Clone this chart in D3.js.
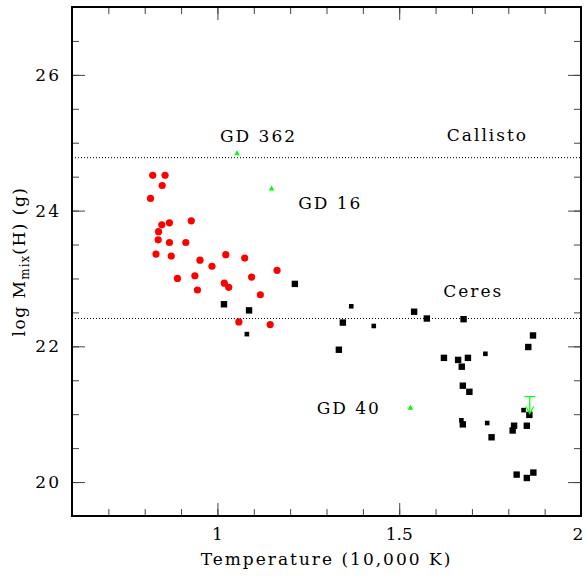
<!DOCTYPE html>
<html>
<head>
<meta charset="utf-8">
<script src="https://cdn.jsdelivr.net/npm/d3@7"></script>
<style>
  body { margin: 0; background: #fff; }
  text { font-family: "DejaVu Serif", serif; font-size: 17px; letter-spacing: 2px; fill: #000; }
</style>
</head>
<body>
<svg id="grafico" width="586" height="577"></svg>
<script>
// DA stars (red circles): temperature (10,000 K), log Mmix(H)
const daTemp = [0.822, 0.856, 0.848, 0.816, 0.847, 0.868, 0.928, 0.838, 0.837, 0.868, 0.913, 0.831, 0.873, 0.952,
    1.023, 1.075, 0.985, 1.164, 0.890, 0.938, 1.094, 1.019, 1.031, 0.945, 1.118, 1.059, 1.145];
const daMass = [24.52, 24.52, 24.37, 24.18, 23.79, 23.82, 23.85, 23.69, 23.57, 23.53, 23.53, 23.36, 23.33, 23.27,
    23.35, 23.30, 23.18, 23.12, 23.00, 23.04, 23.02, 22.93, 22.87, 22.83, 22.76, 22.36, 22.32];

// DB stars (black squares)
const dbTemp = [1.018, 1.087, 1.213, 1.345, 1.334, 1.541, 1.576, 1.677, 1.868, 1.855, 1.623, 1.662, 1.689, 1.672,
    1.675, 1.693, 1.858, 1.675, 1.816, 1.851, 1.812, 1.754, 1.823, 1.851, 1.869];
const dbMass = [22.62, 22.53, 22.92, 22.35, 21.95, 22.51, 22.41, 22.40, 22.16, 21.99, 21.83, 21.80, 21.83, 21.70,
    21.42, 21.33, 20.99, 20.85, 20.83, 20.83, 20.76, 20.66, 20.11, 20.06, 20.14];

// DB stars, second group (small squares)
const dbSmallTemp = [1.081, 1.368, 1.430, 1.737, 1.842, 1.671, 1.742];
const dbSmallMass = [22.18, 22.59, 22.30, 21.89, 21.06, 20.91, 20.87];

// named stars (green triangles)
const namedStars = ["GD 362", "GD 16", "GD 40"];
const namedTemp = [1.054, 1.149, 1.531];
const namedMass = [24.84, 24.32, 21.09];

// upper limit (green arrow)
const limitTemp = [1.859];
const limitTop = [21.26];
const limitTip = [21.01];

// reference bodies (dotted lines)
const bodies = ["Callisto", "Ceres"];
const bodyMass = [24.78, 22.41];

// annotation text and where it sits (data units)
const labelText = ["GD 362", "Callisto", "GD 16", "Ceres", "GD 40"];
const labelTemp = [1.007, 1.631, 1.222, 1.621, 1.273];
const labelMass = [25.01, 25.03, 24.02, 22.72, 21.01];

const xTicks = [1, 1.5, 2];
const yTicks = [20, 22, 24, 26];

let desenha = () => {
    const larguraSVG = 586, alturaSVG = 577;
    const margin = {top: 7, right: 5, bottom: 61, left: 72},
    larguraVis = larguraSVG - margin.left - margin.right,
    alturaVis = alturaSVG - margin.top - margin.bottom;

    let svg = d3.select("#grafico");
    let g = svg.append("g")
        .attr("transform", "translate(" + margin.left + "," + margin.top + ")");

    let x = d3.scaleLinear().domain([0.6, 2.0]).range([0, larguraVis]);
    let y = d3.scaleLinear().domain([19.5, 27]).range([alturaVis, 0]);

    // dotted reference lines
    g.selectAll(".ref")
        .data(bodyMass)
        .enter().append("line")
        .attr("x1", 0).attr("x2", larguraVis)
        .attr("y1", d => y(d)).attr("y2", d => y(d))
        .attr("stroke", "#000")
        .attr("stroke-width", 1)
        .attr("stroke-dasharray", "1,2");

    // axes with inward ticks on all four sides
    let minorX = d3.range(7, 20).map(d => d / 10);
    let minorY = d3.range(20, 27.1, 0.5);

    let eixo = (axis) => (sel) => { sel.call(axis); sel.select(".domain").remove(); sel.selectAll("line").attr("stroke", "#444"); };

    g.append("g").attr("transform", "translate(0," + alturaVis + ")")
        .call(eixo(d3.axisBottom(x).tickValues(minorX).tickSize(-7).tickFormat("")));
    g.append("g").attr("transform", "translate(0," + alturaVis + ")")
        .call(eixo(d3.axisBottom(x).tickValues(xTicks).tickSize(-13).tickFormat("")));
    g.append("g")
        .call(eixo(d3.axisTop(x).tickValues(minorX).tickSize(-7).tickFormat("")));
    g.append("g")
        .call(eixo(d3.axisTop(x).tickValues(xTicks).tickSize(-13).tickFormat("")));
    g.append("g")
        .call(eixo(d3.axisLeft(y).tickValues(minorY).tickSize(-7).tickFormat("")));
    g.append("g")
        .call(eixo(d3.axisLeft(y).tickValues(yTicks).tickSize(-13).tickFormat("")));
    g.append("g").attr("transform", "translate(" + larguraVis + ",0)")
        .call(eixo(d3.axisRight(y).tickValues(minorY).tickSize(-7).tickFormat("")));
    g.append("g").attr("transform", "translate(" + larguraVis + ",0)")
        .call(eixo(d3.axisRight(y).tickValues(yTicks).tickSize(-13).tickFormat("")));

    // tick labels (the last one is pulled in so it stays inside the page)
    g.selectAll(".xl")
        .data(xTicks)
        .enter().append("text")
        .attr("x", (d, i) => x(d) + (i == xTicks.length - 1 ? -3 : 0))
        .attr("y", alturaVis + 24)
        .attr("text-anchor", "middle")
        .style("letter-spacing", "0px")
        .text(d => d);
    g.selectAll(".yl")
        .data(yTicks)
        .enter().append("text")
        .attr("x", -11)
        .attr("y", d => y(d))
        .attr("dy", "0.36em")
        .attr("text-anchor", "end")
        .text(d => d);

    // frame
    g.append("rect")
        .attr("width", larguraVis).attr("height", alturaVis)
        .attr("fill", "none").attr("stroke", "#000").attr("stroke-width", 2);

    // DA
    g.selectAll(".da")
        .data(daTemp)
        .enter().append("circle")
        .attr("cx", d => x(d))
        .attr("cy", (d, i) => y(daMass[i]))
        .attr("r", 3.6)
        .attr("fill", "#ff0000");

    // DB
    g.selectAll(".db")
        .data(dbTemp)
        .enter().append("rect")
        .attr("x", d => x(d) - 3.2)
        .attr("y", (d, i) => y(dbMass[i]) - 3.2)
        .attr("width", 6.4).attr("height", 6.4)
        .attr("fill", "#000");
    g.selectAll(".dbs")
        .data(dbSmallTemp)
        .enter().append("rect")
        .attr("x", d => x(d) - 2.3)
        .attr("y", (d, i) => y(dbSmallMass[i]) - 2.3)
        .attr("width", 4.6).attr("height", 4.6)
        .attr("fill", "#000");

    // named stars
    g.selectAll(".named")
        .data(namedTemp)
        .enter().append("path")
        .attr("d", d3.symbol(d3.symbolTriangle, 14))
        .attr("transform", (d, i) => "translate(" + x(d) + "," + y(namedMass[i]) + ")")
        .attr("fill", "#00ff00");

    // upper limit
    let lim = g.selectAll(".lim")
        .data(limitTemp)
        .enter().append("g")
        .attr("stroke", "#00ff00")
        .attr("stroke-width", 1.2)
        .attr("fill", "none");
    lim.append("line")
        .attr("x1", d => x(d) - 5.5).attr("x2", d => x(d) + 5.5)
        .attr("y1", (d, i) => y(limitTop[i])).attr("y2", (d, i) => y(limitTop[i]));
    lim.append("line")
        .attr("x1", d => x(d)).attr("x2", d => x(d))
        .attr("y1", (d, i) => y(limitTop[i])).attr("y2", (d, i) => y(limitTip[i]));
    lim.append("path")
        .attr("d", (d, i) => "M" + (x(d) - 4) + "," + (y(limitTip[i]) - 7) + "L" + x(d) + "," + y(limitTip[i]) + "L" + (x(d) + 4) + "," + (y(limitTip[i]) - 7));

    // annotations
    g.selectAll(".lab")
        .data(labelText)
        .enter().append("text")
        .attr("x", (d, i) => x(labelTemp[i]))
        .attr("y", (d, i) => y(labelMass[i]))
        .text(d => d);

    // axis titles
    svg.append("text")
        .attr("x", margin.left + larguraVis / 2)
        .attr("y", 565)
        .attr("text-anchor", "middle")
        .text("Temperature (10,000 K)");

    let yt = svg.append("text")
        .attr("transform", "translate(25," + (margin.top + alturaVis / 2) + ") rotate(-90)")
        .attr("text-anchor", "middle")
        .style("letter-spacing", "1.5px");
    yt.append("tspan").text("log M");
    yt.append("tspan").attr("dy", 4).style("font-size", "12px").style("letter-spacing", "1px").text("mix");
    yt.append("tspan").attr("dy", -4).text("(H) (g)");
};

desenha();
</script>
</body>
</html>
